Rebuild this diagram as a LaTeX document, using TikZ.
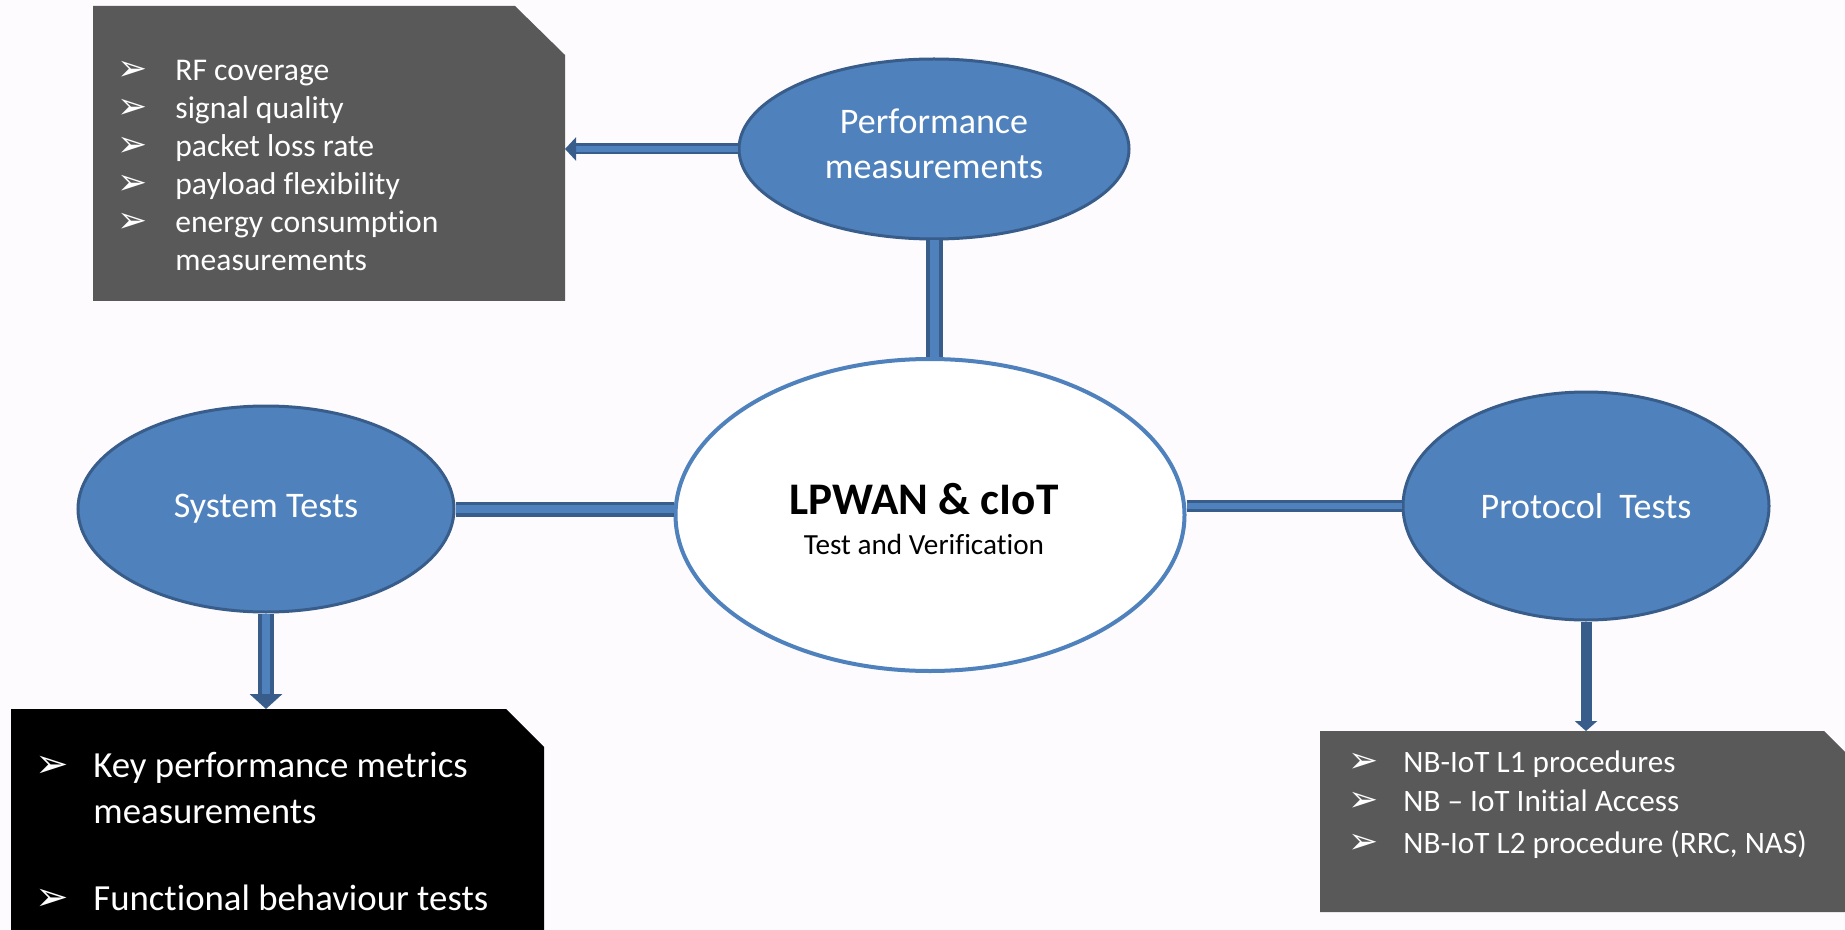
\documentclass[tikz,border=0pt]{standalone}
\usepackage{fontspec}
\setmainfont{Carlito}[Ligatures={TeX,NoCommon}]
\newfontfamily\symfont{DejaVu Sans}
\usetikzlibrary{arrows.meta,shapes.geometric,positioning}
\definecolor{ovfill}{HTML}{4F81BD}
\definecolor{ovline}{HTML}{385D8A}
\definecolor{boxgray}{HTML}{595959}
\definecolor{paper}{HTML}{FDFBFD}
\newcommand{\bul}[1]{{\symfont\fontsize{#1}{#1}\selectfont\char"27A2}}
\tikzset{
  oval/.style={ellipse, fill=ovfill, draw=ovline, line width=1.5pt, inner sep=0pt,
    text=white, align=center, font=\fontsize{18}{22.5}\selectfont},
  bar/.style={draw=ovline, line width=1.5pt, double=ovfill, double distance=3pt},
  item/.style={anchor=base west, inner sep=0pt, text=white},
  listA/.style={item, font=\fontsize{15.8}{19}\selectfont},
  listB/.style={item, font=\fontsize{18.4}{23}\selectfont},
  listC/.style={item, font=\fontsize{15.6}{19}\selectfont},
}
\begin{document}
\begin{tikzpicture}[x=0.5pt,y=-0.5pt]
\fill[paper] (0,0) rectangle (1845,930);
\useasboundingbox (0,0) rectangle (1845,930);

% the four ovals
\node[ellipse, draw=ovfill, line width=2pt, fill=white, inner sep=0pt,
  minimum width=254.5pt, minimum height=156pt] (core) at (930,515) {};
\node (coreT) at (924,514) [anchor=base, font=\fontsize{22.6}{27}\selectfont\bfseries] {LPWAN \& cIoT};
\node (coreS) at (924,554) [anchor=base, font=\fontsize{14.6}{18}\selectfont] {Test and Verification};
\node[oval, minimum width=195pt, minimum height=90pt] (perf) at (934,149) {};
\node (perfT) at (934,144) [align=center, text=white, font=\fontsize{18}{22.5}\selectfont] {Performance\\measurements};
\node[oval, minimum width=188pt, minimum height=103pt] (sys) at (266,509) {System Tests};
\node[oval, minimum width=183pt, minimum height=114pt] (prot) at (1586,506) {Protocol\ \ Tests};

% boxes
\fill[boxgray] (93,6) -- (515,6) -- (565,55) -- (565,301) -- (93,301) -- cycle;
\coordinate (pmEnd) at (565,149);
\fill[black] (11,709) -- (506,709) -- (544,747) -- (544,930) -- (11,930) -- cycle;
\coordinate (kpTop) at (266,709);
\fill[boxgray] (1320,731) -- (1824,731) -- (1845,752) -- (1845,912) -- (1320,912) -- cycle;
\coordinate (nbTop) at (1583,731);

% connectors
\draw[bar, line width=2pt, double distance=4.5pt] (perf.south) -- (perf.south |- core.north);
\draw[bar, line width=1.75pt, double distance=4pt] (sys.east) -- (sys.east -| core.west);
\draw[bar] (prot.west -| core.east) -- (prot.west);
\draw[bar, line width=1.25pt, -{Triangle[width=11.5pt,length=5.5pt]}] (perf.west) -- (pmEnd);
\draw[bar, line width=2pt, double distance=4pt, -{Triangle[width=16pt,length=7.5pt]}] (sys.south) -- (sys.south |- kpTop);
\draw[ovline, line width=5.5pt, -{Triangle[width=11pt,length=5pt]}] (prot.south) -- (prot.south |- nbTop);

% lists
\foreach \t [count=\i] in {RF coverage, signal quality, packet loss rate, payload flexibility, energy consumption}{
  \node[item] (pmb\i) at (117,{81+38*(\i-1)}) {\bul{18}};
  \node[listA] (pm\i) at (175,{81+38*(\i-1)}) {\t};
}
\node[listA] (pm6) at (175,271) {measurements};

\node[item] (kpb1) at (35,777) {\bul{20}};
\node[listB] (kp1) at (93,777) {Key performance metrics};
\node[listB] (kp2) at (93,823) {measurements};
\node[item] (kpb2) at (35,910) {\bul{20}};
\node[listB] (kp3) at (93,910) {Functional behaviour tests};

\foreach \t/\y [count=\i] in {NB-IoT L1 procedures/772, NB – IoT Initial Access/811, {NB-IoT L2 procedure (RRC, NAS)}/853}{
  \node[item] (nbb\i) at (1348,\y) {\bul{18}};
  \node[listC] (nb\i) at (1403,\y) {\t};
}
\end{tikzpicture}
\end{document}
